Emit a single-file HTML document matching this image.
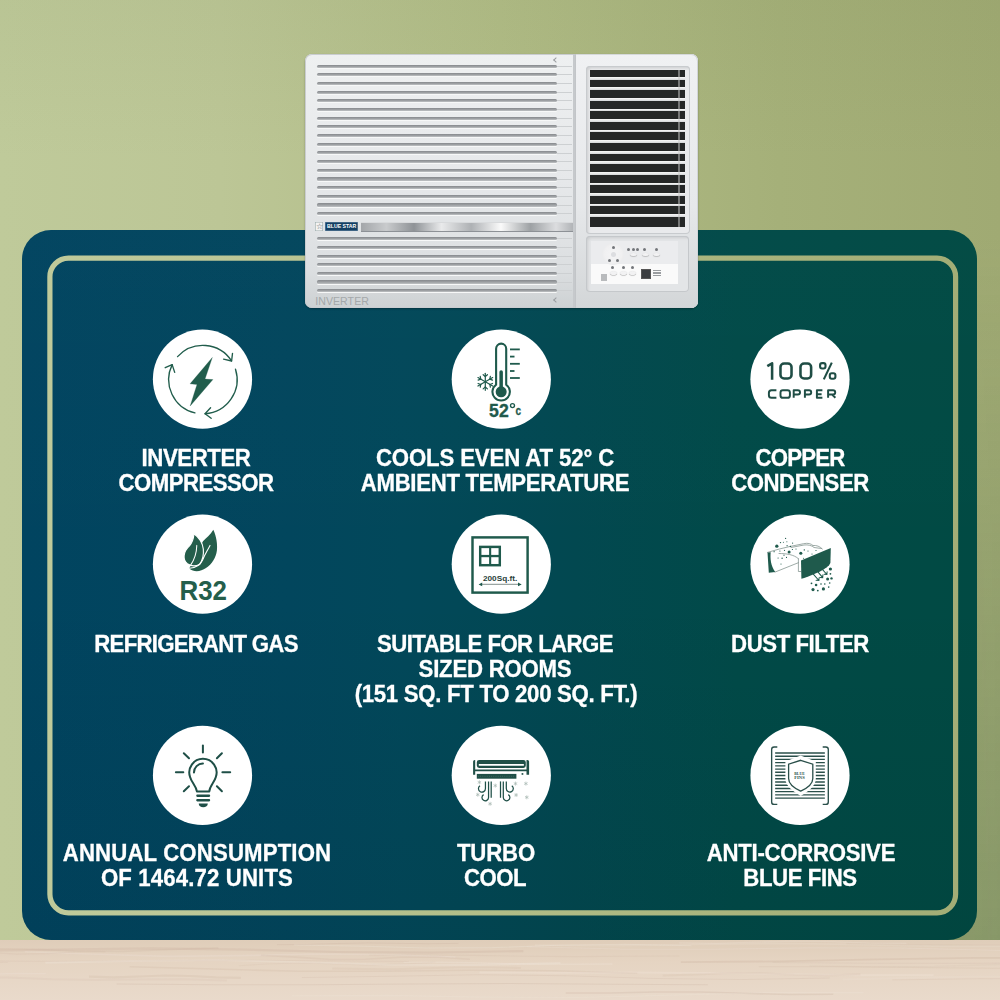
<!DOCTYPE html>
<html><head><meta charset="utf-8"><style>
html,body{margin:0;padding:0;}
body{width:1000px;height:1000px;overflow:hidden;position:relative;font-family:"Liberation Sans",sans-serif;
background:linear-gradient(90deg,#bfca9a 0%,#bcc696 22%,#b1bc86 50%,#a5b079 78%,#a0aa73 100%);}
#wallshade{position:absolute;left:0;top:0;width:1000px;height:940px;background:linear-gradient(180deg,rgba(80,110,80,0) 25%,rgba(80,110,80,0.30) 100%);-webkit-mask-image:linear-gradient(90deg,transparent 45%,#000 100%);}
#floor{position:absolute;left:0;top:940px;width:1000px;height:60px;overflow:hidden;}
#floorsvg{position:absolute;left:0;top:0;}
#walltop{position:absolute;left:0;top:0;width:1000px;height:160px;background:linear-gradient(180deg,rgba(90,110,60,0.06) 0%,rgba(90,110,60,0) 100%);}
#panel{position:absolute;left:22px;top:230px;width:955px;height:710px;border-radius:29px;
background:linear-gradient(90deg,#014460 0%,#02465d 28%,#02485a 40%,#024850 58%,#014a48 75%,#014a43 100%);}
#panelshade{position:absolute;left:22px;top:230px;width:955px;height:710px;border-radius:29px;
background:linear-gradient(180deg,rgba(255,255,255,0.01) 0%,rgba(0,0,0,0) 50%,rgba(0,10,10,0.07) 100%);}
#inner{position:absolute;left:0;top:0;}
#icons{position:absolute;left:0;top:0;}
.ln{position:absolute;width:500px;text-align:center;color:#fff;font-weight:bold;font-size:23px;line-height:25px;height:25px;white-space:nowrap;-webkit-text-stroke:0.3px #fff;transform:scaleX(0.965);}
#ac{position:absolute;left:0;top:0;width:1000px;height:400px;}
.acbody{position:absolute;left:305px;top:54px;width:393px;height:254px;border-radius:7px;
background:linear-gradient(180deg,#eef0f1 0%,#e6e8ea 50%,#dcdfe1 85%,#cdd1d3 100%);box-shadow:inset 0 0 0 1px #c9ccd0,0 1px 2px rgba(0,0,0,0.3);}
#divl{position:absolute;left:572.5px;top:54px;width:2px;height:254px;background:#c6c9cc;}
.gr{position:absolute;left:317px;width:240px;height:3.2px;border-radius:1.6px;
background:linear-gradient(180deg,#86898d 0%,#9c9fa2 50%,#c0c3c5 100%);box-shadow:0 1px 0 #f7f8f8;}
.grs{position:absolute;left:557px;width:15px;height:1px;background:#cdd0d2;}
.mk{position:absolute;left:554px;width:3px;height:3px;border-left:1px solid #9a9da0;border-bottom:1px solid #9a9da0;transform:rotate(45deg);}
#starbox{position:absolute;left:315.4px;top:222.4px;width:8px;height:9px;box-shadow:inset 0 0 0 0.6px #9aa;background:#f3f3f3;color:#555;font-size:8px;line-height:9px;text-align:center;}
#bsbox{position:absolute;left:325.2px;top:222.4px;width:33px;height:9px;background:#143f63;color:#fff;font-size:5.2px;font-weight:bold;line-height:9px;text-align:center;box-shadow:inset 0 0 0 0.6px #6a8aa5;}
#chrome{position:absolute;left:361px;top:221.8px;width:212px;height:9.8px;background:linear-gradient(90deg,#a3a6a9 0%,#c9cbcd 12%,#8f9397 25%,#e9eaeb 38%,#aeb1b4 52%,#fafafa 66%,#9da1a4 80%,#dcdddf 92%,#b1b4b7 100%);box-shadow:inset 0 -1px 0 #8d9196,inset 0 1px 0 #d8dadc;}
#invtxt{position:absolute;left:315.2px;top:295.6px;font-size:10.6px;line-height:10.5px;color:#a4a8aa;letter-spacing:0.05px;}
#rbody{position:absolute;left:574.5px;top:54px;width:123.5px;height:254px;border-radius:0 7px 7px 0;background:linear-gradient(180deg,#f0f1f3 0%,#e6e8ea 60%,#d3d6d8 100%);box-shadow:inset 1px 0 0 #c2c5c8,inset -1px 0 0 #d2d5d8,inset 0 1px 0 #d5d8da,inset 0 -1px 0 #d0d3d6;}
#rframe{position:absolute;left:585.5px;top:65.5px;width:104px;height:168px;border-radius:4px;background:#e9eaec;box-shadow:inset 0 0 0 1px #c8cbce,inset 2px 2px 3px rgba(0,0,0,0.12);}
#grille{position:absolute;left:589.5px;top:70px;width:95px;height:156.5px;background:#252727;overflow:hidden;}
.gb{position:absolute;left:0;width:100%;height:2.8px;background:linear-gradient(180deg,#fafafa,#d3d5d7);}
#vbar{position:absolute;left:88.9px;top:0;width:1.2px;height:100%;background:rgba(200,200,200,0.5);}
#cpanel{position:absolute;left:586px;top:236px;width:103px;height:56px;background:#e3e5e7;border-radius:4px;box-shadow:inset 0 0 0 1px #c5c8cb,inset 2px 2px 3px rgba(0,0,0,0.10);}
#cpin{position:absolute;left:5px;top:5px;width:87px;height:43px;background:#ebecee;overflow:hidden;}
#cplow{position:absolute;left:0;top:23px;width:87px;height:20px;background:#fafafa;}
.dial{position:absolute;left:11px;top:2px;width:22px;height:22px;border-radius:50%;background:radial-gradient(circle at 50% 50%,#f4f4f5 0%,#f0f0f1 55%,#e2e3e5 100%);}
.dialc{position:absolute;left:19.5px;top:10.5px;width:5px;height:5px;border-radius:50%;background:#dcdde0;}
.btn{position:absolute;width:3px;height:3px;border-radius:50%;background:#73767a;}
.obtn{position:absolute;width:7px;height:3.6px;border-radius:50%;background:#f2f2f3;box-shadow:0 0.6px 0.8px rgba(0,0,0,0.35);}
#sq{position:absolute;left:10px;top:33px;width:6px;height:7px;background:#b9bbbd;}
#lcd{position:absolute;left:49.5px;top:27.5px;width:10px;height:10px;background:#3a3d40;box-shadow:inset 0 0 0 1px #555;}
#lcdt{position:absolute;left:62px;top:29px;width:8px;height:7px;background:repeating-linear-gradient(180deg,#9a9da0 0 1px,transparent 1px 2.5px);}
</style></head>
<body>
<div id="wallshade"></div><div id="walltop"></div>
<div id="panel"></div><div id="panelshade"></div>
<svg id="inner" width="1000" height="1000" viewBox="0 0 1000 1000"><defs><linearGradient id="ilg" gradientUnits="userSpaceOnUse" x1="0" y1="0" x2="1000" y2="0"><stop offset="0" stop-color="#c0cb9b"/><stop offset="0.22" stop-color="#bdc797"/><stop offset="0.5" stop-color="#b2bd87"/><stop offset="0.78" stop-color="#a8b27b"/><stop offset="1" stop-color="#a2ac75"/></linearGradient></defs><rect x="49.9" y="258.1" width="905.7" height="654.7" rx="18.6" fill="none" stroke="url(#ilg)" stroke-width="5.2"/></svg>
<div id="ac"><div class="acbody"></div><div id="divl"></div><div class="gr" style="top:64.50px"></div><div class="grs" style="top:65.70px"></div><div class="gr" style="top:73.18px"></div><div class="grs" style="top:74.38px"></div><div class="gr" style="top:81.86px"></div><div class="grs" style="top:83.06px"></div><div class="gr" style="top:90.54px"></div><div class="grs" style="top:91.74px"></div><div class="gr" style="top:99.22px"></div><div class="grs" style="top:100.42px"></div><div class="gr" style="top:107.90px"></div><div class="grs" style="top:109.10px"></div><div class="gr" style="top:116.58px"></div><div class="grs" style="top:117.78px"></div><div class="gr" style="top:125.26px"></div><div class="grs" style="top:126.46px"></div><div class="gr" style="top:133.94px"></div><div class="grs" style="top:135.14px"></div><div class="gr" style="top:142.62px"></div><div class="grs" style="top:143.82px"></div><div class="gr" style="top:151.30px"></div><div class="grs" style="top:152.50px"></div><div class="gr" style="top:159.98px"></div><div class="grs" style="top:161.18px"></div><div class="gr" style="top:168.66px"></div><div class="grs" style="top:169.86px"></div><div class="gr" style="top:177.34px"></div><div class="grs" style="top:178.54px"></div><div class="gr" style="top:186.02px"></div><div class="grs" style="top:187.22px"></div><div class="gr" style="top:194.70px"></div><div class="grs" style="top:195.90px"></div><div class="gr" style="top:203.38px"></div><div class="grs" style="top:204.58px"></div><div class="gr" style="top:212.06px"></div><div class="grs" style="top:213.26px"></div><div class="gr" style="top:237.20px"></div><div class="grs" style="top:238.40px"></div><div class="gr" style="top:245.85px"></div><div class="grs" style="top:247.05px"></div><div class="gr" style="top:254.50px"></div><div class="grs" style="top:255.70px"></div><div class="gr" style="top:263.15px"></div><div class="grs" style="top:264.35px"></div><div class="gr" style="top:271.80px"></div><div class="grs" style="top:273.00px"></div><div class="gr" style="top:280.45px"></div><div class="grs" style="top:281.65px"></div><div class="gr" style="top:289.10px"></div><div class="grs" style="top:290.30px"></div><div class="mk" style="top:58px"></div><div class="mk" style="top:298px"></div><div id="starbox">&#9734;</div><div id="bsbox">BLUE STAR</div><div id="chrome"></div><div id="invtxt">INVERTER</div><div id="rbody"></div><div id="rframe"></div><div id="grille"><div class="gb" style="top:6.80px"></div><div class="gb" style="top:17.37px"></div><div class="gb" style="top:27.94px"></div><div class="gb" style="top:38.51px"></div><div class="gb" style="top:49.08px"></div><div class="gb" style="top:59.65px"></div><div class="gb" style="top:70.22px"></div><div class="gb" style="top:80.79px"></div><div class="gb" style="top:91.36px"></div><div class="gb" style="top:101.93px"></div><div class="gb" style="top:112.50px"></div><div class="gb" style="top:123.07px"></div><div class="gb" style="top:133.64px"></div><div class="gb" style="top:144.21px"></div><div id="vbar"></div></div><div id="cpanel"><div id="cpin"><div id="cplow"></div><div class="dial"></div><div class="dialc"></div><div class="btn" style="left:36.2px;top:6.7px"></div><div class="btn" style="left:40.7px;top:6.7px"></div><div class="btn" style="left:45.2px;top:6.7px"></div><div class="btn" style="left:52.2px;top:6.7px"></div><div class="btn" style="left:63.7px;top:6.7px"></div><div class="btn" style="left:20.7px;top:4.7px"></div><div class="btn" style="left:17.2px;top:17.7px"></div><div class="btn" style="left:24.7px;top:17.7px"></div><div class="btn" style="left:20.2px;top:25.2px"></div><div class="btn" style="left:30.7px;top:25.2px"></div><div class="btn" style="left:39.7px;top:25.2px"></div><div class="obtn" style="left:38.5px;top:11.7px"></div><div class="obtn" style="left:50.5px;top:11.7px"></div><div class="obtn" style="left:61.5px;top:11.7px"></div><div class="obtn" style="left:18.5px;top:30.2px"></div><div class="obtn" style="left:28.5px;top:30.2px"></div><div class="obtn" style="left:37.5px;top:30.2px"></div><div id="sq"></div><div id="lcd"></div><div id="lcdt"></div></div></div></div>
<svg id="icons" width="1000" height="1000" viewBox="0 0 1000 1000"><circle cx="202.5" cy="379.2" r="49.6" fill="#fff"/><circle cx="501.3" cy="379.2" r="49.6" fill="#fff"/><circle cx="800" cy="379.2" r="49.6" fill="#fff"/><circle cx="202.5" cy="564.2" r="49.6" fill="#fff"/><circle cx="501.3" cy="564.2" r="49.6" fill="#fff"/><circle cx="800" cy="564.2" r="49.6" fill="#fff"/><circle cx="202.5" cy="775.4" r="49.6" fill="#fff"/><circle cx="501.3" cy="775.4" r="49.6" fill="#fff"/><circle cx="800" cy="775.4" r="49.6" fill="#fff"/><g fill="none" stroke="#215d4c" stroke-width="1.35" stroke-linecap="round" stroke-linejoin="round"><path d="M177.56 356.63A34.2 34.2 0 0 1 231.58 360.97"/><path d="M232.51 353.43L231.58 360.97L223.59 359.13"/><path d="M235.50 369.26A34.2 34.2 0 0 1 205.05 413.73"/><path d="M211.16 418.24L205.05 413.73L210.58 407.68"/><path d="M194.92 412.86A34.2 34.2 0 0 1 172.16 364.61"/><path d="M165.22 367.70L172.16 364.61L174.70 372.41"/></g><path d="M212.3 357.5L190.1 383.8L197 384.6L190.2 405.9L212.9 379.6L205 379.1Z" fill="#215d4c" stroke="#215d4c" stroke-width="0.3" stroke-linejoin="round"/><path d="M496.1 384.75V348.7A5.05 5.05 0 0 1 506.2 348.7V384.75A8.7 8.7 0 1 1 496.1 384.75Z" fill="none" stroke="#1f5a4c" stroke-width="2.1"/><circle cx="501.15" cy="391.8" r="5.5" fill="#1f5a4c"/><path d="M499.4 388V371.9A1.75 1.75 0 0 1 502.9 371.9V388Z" fill="#1f5a4c"/><g stroke="#1f5a4c" stroke-width="1.8"><line x1="510" y1="349.4" x2="519.8" y2="349.4"/><line x1="510" y1="356.6" x2="514.5" y2="356.6"/><line x1="510" y1="363.8" x2="519.8" y2="363.8"/><line x1="510" y1="371" x2="514.5" y2="371"/><line x1="510" y1="378" x2="519.8" y2="378"/></g><g stroke="#1f5a4c" stroke-width="1.2" stroke-linecap="round" fill="none"><line x1="485.30" y1="390.30" x2="485.30" y2="373.30"/><path d="M483.16 388.87L485.30 387.07"/><path d="M487.44 388.87L485.30 387.07"/><path d="M487.44 374.73L485.30 376.53"/><path d="M483.16 374.73L485.30 376.53"/><line x1="477.94" y1="386.05" x2="492.66" y2="377.55"/><path d="M478.10 383.48L480.74 384.44"/><path d="M480.25 387.19L480.74 384.44"/><path d="M492.50 380.12L489.86 379.17"/><path d="M490.35 376.41L489.86 379.17"/><line x1="477.94" y1="377.55" x2="492.66" y2="386.05"/><path d="M480.25 376.41L480.74 379.17"/><path d="M478.10 380.12L480.74 379.17"/><path d="M490.35 387.19L489.86 384.44"/><path d="M492.50 383.48L489.86 384.44"/></g><text x="489.1" y="416.6" font-family="Liberation Sans" font-weight="bold" font-size="18.4" fill="#1f5a4c" stroke="#1f5a4c" stroke-width="0.35" textLength="19.6" lengthAdjust="spacingAndGlyphs">52</text><circle cx="512.5" cy="405.6" r="2.0" fill="none" stroke="#1f5a4c" stroke-width="1.35"/><text x="515.4" y="415.3" font-family="Liberation Sans" font-weight="bold" font-size="12.6" fill="#1f5a4c" stroke="#1f5a4c" stroke-width="0.3" textLength="5.6" lengthAdjust="spacingAndGlyphs">c</text><g fill="none" stroke="#1f4d45" stroke-width="2.55" stroke-linejoin="round"><path d="M772.1 379.8V363.3L767.3 366.2"/><rect x="780.475" y="363.47499999999997" width="11.05" height="15.05" rx="3.6"/><rect x="800.475" y="363.47499999999997" width="10.649999999999999" height="15.05" rx="3.6"/></g><g fill="none" stroke="#1f4d45" stroke-width="2.1"><line x1="831.8" y1="362.6" x2="823.8" y2="379.4"/><rect x="820.1" y="363.1" width="5.4" height="5.4" rx="2"/><rect x="829.8" y="373.2" width="5.6" height="5.6" rx="2"/></g><g fill="none" stroke="#1f4d45" stroke-width="1.95" stroke-linejoin="round"><path d="M776.4 390.2H771.5Q768.9 390.2 768.9 392.8V395.2Q768.9 397.8 771.5 397.8H776.4"/><rect x="780.5" y="390.2" width="9.4" height="7.60" rx="2.4"/><path d="M793.7 397.8V390.2H797.8Q800.0 390.2 800.0 392.2V392.5Q800.0 394.4 797.8 394.4H793.7"/><path d="M804.9 397.8V390.2H809.0Q811.2 390.2 811.2 392.2V392.5Q811.2 394.4 809.0 394.4H804.9"/><path d="M822.4 390.2H816.9V397.8H822.4M816.9 394.2H821.6"/><path d="M828.1 397.8V390.2H833Q835.2 390.2 835.2 392.2V392.5Q835.2 394.4 833 394.4H828.1M831.8 394.4L835.4 397.8"/></g><path d="M213.3 529.7C216.5 536 217.6 545 216.9 550.5C215.9 558 212 564 206 568C201 571.6 194 572.6 189.3 568.6C192 562 198 550 203 541.2C206 538 210.5 535 213.3 529.7Z" fill="#245e4b"/><path d="M194 533.8C199 537.5 202.6 543 203.3 549C203.9 555 202.1 561 199.6 564.4C196 566.2 191 566.2 187.35 563.8C184.5 561.5 183.9 558 184.1 555.8C184.5 551 187 548 189.5 545.8C192 543 193.6 538 194 533.8Z" fill="#245e4b" stroke="#fff" stroke-width="1.15"/><path d="M196.8 545.4C196.6 553 194.2 560 190.3 565.6" fill="none" stroke="#fff" stroke-width="1.05" stroke-linecap="round"/><path d="M210 545.4C207.2 551 204.6 555 202.6 560C200.6 564.5 197 567.6 189.6 568.3" fill="none" stroke="#fff" stroke-width="1.1" stroke-linecap="round"/><text x="179.5" y="599.8" font-family="Liberation Sans" font-weight="bold" font-size="28.3" fill="#245e4b" textLength="47.5" lengthAdjust="spacingAndGlyphs">R32</text><rect x="472.5" y="537.4" width="55.1" height="55.2" fill="none" stroke="#1f5a4c" stroke-width="2.45"/><rect x="480.2" y="546.9" width="19.6" height="18.3" fill="none" stroke="#1f5a4c" stroke-width="2.45"/><line x1="490.15" y1="546.9" x2="490.15" y2="565.2" stroke="#1f5a4c" stroke-width="2.1"/><line x1="480.2" y1="556.05" x2="499.8" y2="556.05" stroke="#1f5a4c" stroke-width="2.3"/><text x="483" y="580.5" font-family="Liberation Sans" font-weight="bold" font-size="7.4" fill="#2a3f3a" textLength="34.2" lengthAdjust="spacingAndGlyphs">200Sq.ft.</text><line x1="481" y1="584.4" x2="519" y2="584.4" stroke="#9aa5a2" stroke-width="1.2"/><path d="M478.6 584.4L482.2 582.5V586.3Z M521.7 584.4L518 582.5V586.3Z" fill="#1f5a4c"/><g fill="none" stroke="#7d8f8a" stroke-width="0.75" stroke-linejoin="round" stroke-linecap="round"><path d="M767.5 552.4L779.4 549L790.4 546.4L803.6 543.7C808 542.8 811 543.5 813 545.5"/><path d="M791 547.5L804 545C808 544.5 812 545.5 814 547.5L821.5 548.5"/><path d="M813 545.5C816.5 545 820 546.5 822.4 549"/><path d="M775 572.1L798.4 562.7"/><path d="M779 553.5C786 553.5 794 554.5 798.4 558.7"/><path d="M798.4 558.7V571.5H801"/></g><path d="M767.5 552.4L770.7 552.3C770.1 558 770.6 566 775.2 571.9L768.8 572.8Z" fill="#1f5a4c"/><path d="M801 560.5L830.8 548L830.4 563C828 569 815 574 804.2 578L801.4 578.7Z" fill="#1f5a4c"/><circle cx="776.8" cy="546.15" r="1.65" fill="#1f5a4c"/><circle cx="789.1" cy="552.1" r="1.5" fill="#1f5a4c"/><circle cx="800.8" cy="553.2" r="1.55" fill="#1f5a4c"/><circle cx="780.5" cy="542.6" r="0.7" fill="#1f5a4c"/><circle cx="792.6" cy="543.1" r="0.6" fill="#1f5a4c"/><circle cx="785.6" cy="538.4" r="0.6" fill="#1f5a4c"/><circle cx="790.4" cy="546.4" r="0.7" fill="#1f5a4c"/><circle cx="784.5" cy="550.3" r="0.6" fill="#1f5a4c"/><circle cx="792.4" cy="549.5" r="0.6" fill="#1f5a4c"/><circle cx="774.1" cy="551.7" r="0.6" fill="#1f5a4c"/><circle cx="779.9" cy="551" r="0.6" fill="#1f5a4c"/><circle cx="784" cy="555.2" r="0.6" fill="#1f5a4c"/><circle cx="778.1" cy="558" r="0.6" fill="#1f5a4c"/><circle cx="782.1" cy="558.3" r="0.7" fill="#1f5a4c"/><circle cx="786.5" cy="557.4" r="0.55" fill="#1f5a4c"/><circle cx="781" cy="564" r="0.6" fill="#1f5a4c"/><circle cx="804.3" cy="549.9" r="0.7" fill="#1f5a4c"/><circle cx="787.1" cy="545.7" r="0.6" fill="#1f5a4c"/><circle cx="783.4" cy="542.2" r="0.5" fill="#1f5a4c"/><circle cx="786.9" cy="541.7" r="0.5" fill="#1f5a4c"/><circle cx="803.6" cy="558.3" r="0.55" fill="#1f5a4c"/><circle cx="808" cy="551" r="0.6" fill="#1f5a4c"/><circle cx="812" cy="554" r="0.55" fill="#1f5a4c"/><circle cx="816" cy="550.5" r="0.6" fill="#1f5a4c"/><circle cx="796" cy="549" r="0.55" fill="#1f5a4c"/><g fill="none" stroke="#1f5a4c" stroke-width="1.05" stroke-linecap="round"><path d="M813.3 574.2L818.9 580.5M816.1 580.2L818.9 580.5L819.1 577.7"/><path d="M817.5 571.4L822.7 577.7M819.9000000000001 577.4000000000001L822.7 577.7L822.9000000000001 574.9000000000001"/><path d="M821.7 568.6L826.9 574.5M824.1 574.2L826.9 574.5L827.1 571.7"/></g><circle cx="830.4" cy="569" r="1.6" fill="#1f5a4c"/><circle cx="830.4" cy="573.8" r="0.9" fill="#1f5a4c"/><circle cx="827.6" cy="579.1" r="1.5" fill="#1f5a4c"/><circle cx="831.5" cy="578.4" r="1.2" fill="#1f5a4c"/><circle cx="829.7" cy="583" r="0.8" fill="#1f5a4c"/><circle cx="811.5" cy="583.3" r="0.9" fill="#1f5a4c"/><circle cx="816.1" cy="585" r="1.3" fill="#1f5a4c"/><circle cx="821" cy="584" r="0.8" fill="#1f5a4c"/><circle cx="824.8" cy="584" r="0.8" fill="#1f5a4c"/><circle cx="828.7" cy="587.1" r="0.8" fill="#1f5a4c"/><circle cx="813" cy="589.6" r="1.6" fill="#1f5a4c"/><circle cx="817.8" cy="590.6" r="0.9" fill="#1f5a4c"/><circle cx="823.4" cy="588.9" r="1.6" fill="#1f5a4c"/><g fill="none" stroke="#1f4f47" stroke-width="2" stroke-linecap="round" stroke-linejoin="round"><path d="M196.9 791.4C196.2 786 191.5 782.5 190.06 777A13.65 13.65 0 1 1 215.84 777C214.4 782.5 209.7 786 209.3 791.4Z"/><path d="M193.95 772.5A9 9 0 0 1 202.95 763.5"/><line x1="202.9" y1="745.6" x2="202.9" y2="752.6"/><line x1="175.9" y1="772.3" x2="183.3" y2="772.3"/><line x1="222.4" y1="772.3" x2="230.2" y2="772.3"/><line x1="183.8" y1="753.2" x2="189" y2="758.3"/><line x1="221.9" y1="753.2" x2="216.9" y2="758.3"/><line x1="183.8" y1="791.2" x2="189" y2="786.3"/><line x1="221.9" y1="791.2" x2="216.9" y2="786.3"/></g><rect x="196.2" y="794.6" width="14" height="2.3" rx="1.1" fill="#1f4f47"/><rect x="196.2" y="799.1" width="14" height="2.3" rx="1.1" fill="#1f4f47"/><path d="M198.7 803.5H207.8C207.8 806 205.8 807.3 203.25 807.3C200.7 807.3 198.7 806 198.7 803.5Z" fill="#1f4f47"/><path d="M473.1 761.5Q473.1 759.9 474.7 759.9H475.2V769.6H526.5V759.9H527.5Q529.1 759.9 529.1 761.5V774.8H526.5V771.3H475.2V774.8H473.1Z" fill="#1f4f47"/><path d="M479.2 759.9H523.4A2.4 2.4 0 0 1 525.8 762.3V765.6A2.4 2.4 0 0 1 523.4 768H479.2A2.4 2.4 0 0 1 476.8 765.6V762.3A2.4 2.4 0 0 1 479.2 759.9Z" fill="#1f4f47"/><rect x="478.6" y="764.1" width="45.5" height="1.7" rx="0.8" fill="#fff"/><rect x="521.6" y="773.1" width="1.7" height="1.7" fill="#1f4f47"/><rect x="476.8" y="773.9" width="39.6" height="4.8" fill="#1f4f47"/><line x1="478" y1="776.3" x2="515" y2="776.3" stroke="#6f8f85" stroke-width="0.4" stroke-dasharray="0.8 1.4"/><g fill="none" stroke="#1f4f47" stroke-width="1.25" stroke-linecap="butt"><path d="M485.45 781.4V788.6A3.5 3.5 0 1 1 480 785.7"/><path d="M488.55 781.4V797.5A3.3 3.3 0 1 1 483.6 794.6"/><path d="M491.2 781.4V797.75"/><path d="M500.5 781.4V797.75"/><path d="M503.3 781.4V797.5A3.3 3.3 0 1 0 508.3 794.6"/><path d="M506.3 781.4V788.6A3.5 3.5 0 1 0 511.8 785.7"/></g><g stroke="#a9b9b3" stroke-width="0.7"><line x1="479.40" y1="784.30" x2="479.40" y2="780.30"/><line x1="477.67" y1="783.30" x2="481.13" y2="781.30"/><line x1="477.67" y1="781.30" x2="481.13" y2="783.30"/><line x1="495.30" y1="787.60" x2="495.30" y2="783.60"/><line x1="493.57" y1="786.60" x2="497.03" y2="784.60"/><line x1="493.57" y1="784.60" x2="497.03" y2="786.60"/><line x1="477.80" y1="796.70" x2="477.80" y2="792.70"/><line x1="476.07" y1="795.70" x2="479.53" y2="793.70"/><line x1="476.07" y1="793.70" x2="479.53" y2="795.70"/><line x1="490.10" y1="805.80" x2="490.10" y2="801.80"/><line x1="488.37" y1="804.80" x2="491.83" y2="802.80"/><line x1="488.37" y1="802.80" x2="491.83" y2="804.80"/><line x1="515.50" y1="785.60" x2="515.50" y2="781.60"/><line x1="513.77" y1="784.60" x2="517.23" y2="782.60"/><line x1="513.77" y1="782.60" x2="517.23" y2="784.60"/><line x1="525.90" y1="785.60" x2="525.90" y2="781.60"/><line x1="524.17" y1="784.60" x2="527.63" y2="782.60"/><line x1="524.17" y1="782.60" x2="527.63" y2="784.60"/><line x1="516.10" y1="797.00" x2="516.10" y2="793.00"/><line x1="514.37" y1="796.00" x2="517.83" y2="794.00"/><line x1="514.37" y1="794.00" x2="517.83" y2="796.00"/><line x1="526.80" y1="799.30" x2="526.80" y2="795.30"/><line x1="525.07" y1="798.30" x2="528.53" y2="796.30"/><line x1="525.07" y1="796.30" x2="528.53" y2="798.30"/></g><g fill="none" stroke="#2a4f4a" stroke-width="1.35"><path d="M777.3 747H774.1Q771.65 747 771.65 749.5V801.9Q771.65 804.4 774.1 804.4H777.3"/><path d="M822.7 747H825.8Q828.3 747 828.3 749.5V801.9Q828.3 804.4 825.8 804.4H822.7"/></g><defs><mask id="fm" maskUnits="userSpaceOnUse" x="700" y="700" width="200" height="150"><rect x="700" y="700" width="200" height="150" fill="#fff"/><path d="M800.7 755.5L815.8 761.5V779C815.8 786 808 791.5 800.7 796C793.5 791.5 785.4 786 785.4 779V761.5Z" fill="#000"/></mask></defs><g stroke="#2a4f4a" stroke-width="1.4" mask="url(#fm)"><line x1="775.15" y1="752.95" x2="824.85" y2="752.95"/><line x1="775.15" y1="756.18" x2="824.85" y2="756.18"/><line x1="775.15" y1="759.40" x2="824.85" y2="759.40"/><line x1="775.15" y1="762.62" x2="824.85" y2="762.62"/><line x1="775.15" y1="765.85" x2="824.85" y2="765.85"/><line x1="775.15" y1="769.08" x2="824.85" y2="769.08"/><line x1="775.15" y1="772.30" x2="824.85" y2="772.30"/><line x1="775.15" y1="775.53" x2="824.85" y2="775.53"/><line x1="775.15" y1="778.75" x2="824.85" y2="778.75"/><line x1="775.15" y1="781.98" x2="824.85" y2="781.98"/><line x1="775.15" y1="785.20" x2="824.85" y2="785.20"/><line x1="775.15" y1="788.43" x2="824.85" y2="788.43"/><line x1="775.15" y1="791.65" x2="824.85" y2="791.65"/><line x1="775.15" y1="794.88" x2="824.85" y2="794.88"/><line x1="775.15" y1="798.10" x2="824.85" y2="798.10"/></g><path d="M800.7 760.3L812.8 764.2V778.5C812.8 784 806.5 788.5 800.7 791.1C795 788.5 788.6 784 788.6 778.5V764.2Z" fill="none" stroke="#2a4f4a" stroke-width="1.3"/><text x="799.5" y="775" text-anchor="middle" font-family="Liberation Serif" font-weight="bold" font-size="4.4" fill="#2a4f4a" textLength="10.5" lengthAdjust="spacingAndGlyphs">BLUE</text><text x="799.5" y="779.4" text-anchor="middle" font-family="Liberation Serif" font-weight="bold" font-size="4.4" fill="#2a4f4a" textLength="10.5" lengthAdjust="spacingAndGlyphs">FINS</text></svg>
<div class="ln" style="left:-54.21px;top:445.80px;letter-spacing:-0.429px">INVERTER</div><div class="ln" style="left:-54.08px;top:470.80px;letter-spacing:-0.578px">COMPRESSOR</div><div class="ln" style="left:244.73px;top:445.80px;letter-spacing:-0.139px">COOLS EVEN AT 52° C</div><div class="ln" style="left:244.94px;top:470.80px;letter-spacing:-0.333px">AMBIENT TEMPERATURE</div><div class="ln" style="left:550.21px;top:445.80px;letter-spacing:-0.800px">COPPER</div><div class="ln" style="left:550.07px;top:470.80px;letter-spacing:-0.475px">CONDENSER</div><div class="ln" style="left:-54.17px;top:631.50px;letter-spacing:-0.771px">REFRIGERANT GAS</div><div class="ln" style="left:244.72px;top:631.50px;letter-spacing:-0.588px">SUITABLE FOR LARGE</div><div class="ln" style="left:244.88px;top:656.50px;letter-spacing:-0.240px">SIZED ROOMS</div><div class="ln" style="left:245.65px;top:681.50px;letter-spacing:-0.308px">(151 SQ. FT TO 200 SQ. FT.)</div><div class="ln" style="left:549.88px;top:631.50px;letter-spacing:-0.460px">DUST FILTER</div><div class="ln" style="left:-52.93px;top:840.50px;letter-spacing:0.147px">ANNUAL CONSUMPTION</div><div class="ln" style="left:-53.34px;top:865.50px;letter-spacing:0.133px">OF 1464.72 UNITS</div><div class="ln" style="left:246.43px;top:840.50px;letter-spacing:-0.150px">TURBO</div><div class="ln" style="left:244.63px;top:865.50px;letter-spacing:-0.567px">COOL</div><div class="ln" style="left:550.76px;top:840.50px;letter-spacing:-0.300px">ANTI-CORROSIVE</div><div class="ln" style="left:550.19px;top:865.50px;letter-spacing:-0.438px">BLUE FINS</div>
<div id="floor"><svg id="floorsvg" width="1000" height="60" viewBox="0 0 1000 60"><defs><linearGradient id="flg" x1="0" y1="0" x2="0" y2="1"><stop offset="0" stop-color="#dfcdb9"/><stop offset="0.35" stop-color="#e5d4c2"/><stop offset="1" stop-color="#e9dacb"/></linearGradient></defs><rect width="1000" height="60" fill="url(#flg)"/><path d="M-34.1 20.78L39.8 21.38L113.6 21.12L187.4 20.40L261.2 20.30L335.0 20.98L408.9 21.47" fill="none" stroke="#c6ad9c" stroke-opacity="0.17" stroke-width="0.88" stroke-linejoin="round"/><path d="M277.0 4.71L307.2 4.45L337.5 3.49L367.7 2.95L398.0 3.32L428.2 3.77L458.4 3.34" fill="none" stroke="#c6ad9c" stroke-opacity="0.25" stroke-width="0.97" stroke-linejoin="round"/><path d="M842.5 39.39L910.8 37.87L979.0 36.61L1047.3 36.95L1115.6 37.88L1183.9 37.54L1252.2 35.92" fill="none" stroke="#f5ebe2" stroke-opacity="0.11" stroke-width="2.00" stroke-linejoin="round"/><path d="M-70.4 10.61L-22.3 8.64L25.8 8.98L74.0 10.92L122.1 11.40L170.3 9.50L218.4 7.79" fill="none" stroke="#c6ad9c" stroke-opacity="0.20" stroke-width="1.69" stroke-linejoin="round"/><path d="M-130.9 33.16L-101.5 33.16L-72.0 34.14L-42.5 34.76L-13.1 34.19L16.4 33.36L45.9 33.57" fill="none" stroke="#f5ebe2" stroke-opacity="0.18" stroke-width="1.24" stroke-linejoin="round"/><path d="M129.7 26.80L214.3 29.07L298.9 31.31L383.5 31.34L468.1 30.25L552.6 30.74L637.2 33.21" fill="none" stroke="#c6ad9c" stroke-opacity="0.20" stroke-width="1.54" stroke-linejoin="round"/><path d="M116.7 44.12L215.2 44.86L313.8 44.75L412.3 43.92L510.8 43.54L609.3 44.13L707.8 44.79" fill="none" stroke="#c6ad9c" stroke-opacity="0.24" stroke-width="1.01" stroke-linejoin="round"/><path d="M535.0 5.17L617.4 5.69L699.7 4.41L782.1 3.48L864.4 4.53L946.8 6.30L1029.1 6.46" fill="none" stroke="#f5ebe2" stroke-opacity="0.16" stroke-width="1.77" stroke-linejoin="round"/><path d="M301.8 37.53L389.8 36.30L477.8 34.72L565.8 35.73L653.8 38.47L741.8 39.55L829.8 38.01" fill="none" stroke="#c6ad9c" stroke-opacity="0.22" stroke-width="0.88" stroke-linejoin="round"/><path d="M892.4 39.92L979.0 38.74L1065.7 38.61L1152.3 39.60L1239.0 40.14L1325.6 39.33L1412.3 38.23" fill="none" stroke="#c6ad9c" stroke-opacity="0.22" stroke-width="0.83" stroke-linejoin="round"/><path d="M-71.2 10.85L-41.8 10.43L-12.4 12.33L17.1 14.14L46.5 13.60L75.9 11.88L105.3 11.89" fill="none" stroke="#c6ad9c" stroke-opacity="0.14" stroke-width="1.35" stroke-linejoin="round"/><path d="M294.1 4.85L360.3 6.06L426.5 7.97L492.7 7.59L558.9 5.27L625.1 4.22L691.4 5.78" fill="none" stroke="#f5ebe2" stroke-opacity="0.26" stroke-width="1.19" stroke-linejoin="round"/><path d="M772.6 22.42L869.4 23.26L966.3 23.39L1063.1 22.57L1159.9 21.94L1256.8 22.39L1353.6 23.19" fill="none" stroke="#c6ad9c" stroke-opacity="0.14" stroke-width="1.13" stroke-linejoin="round"/><path d="M89.0 36.64L114.3 37.40L139.6 36.52L164.9 35.47L190.2 35.95L215.6 37.43L240.9 37.91" fill="none" stroke="#c6ad9c" stroke-opacity="0.20" stroke-width="2.13" stroke-linejoin="round"/><path d="M479.4 32.47L555.1 32.67L630.8 32.53L706.5 33.05L782.2 34.26L857.9 35.18L933.6 35.26" fill="none" stroke="#f5ebe2" stroke-opacity="0.24" stroke-width="2.02" stroke-linejoin="round"/><path d="M238.9 25.70L271.6 23.68L304.4 22.85L337.2 24.03L369.9 25.11L402.7 24.11L435.5 22.11" fill="none" stroke="#c6ad9c" stroke-opacity="0.11" stroke-width="1.09" stroke-linejoin="round"/><path d="M-142.2 21.51L-117.1 21.22L-92.1 21.99L-67.1 23.03L-42.1 23.14L-17.1 22.49L7.9 22.37" fill="none" stroke="#c6ad9c" stroke-opacity="0.17" stroke-width="0.84" stroke-linejoin="round"/><path d="M-36.6 36.63L7.3 37.60L51.2 39.35L95.2 40.08L139.1 39.48L183.0 39.20L226.9 40.40" fill="none" stroke="#c6ad9c" stroke-opacity="0.12" stroke-width="1.99" stroke-linejoin="round"/><path d="M332.2 28.54L363.7 29.06L395.1 29.16L426.5 28.32L458.0 27.39L489.4 27.36L520.9 27.90" fill="none" stroke="#c6ad9c" stroke-opacity="0.15" stroke-width="1.96" stroke-linejoin="round"/><path d="M846.1 3.45L910.7 4.80L975.3 5.10L1039.9 5.00L1104.6 5.73L1169.2 7.31L1233.8 8.51" fill="none" stroke="#c6ad9c" stroke-opacity="0.10" stroke-width="1.54" stroke-linejoin="round"/><path d="M565.8 53.03L610.4 53.04L655.0 52.07L699.6 51.98L744.2 53.34L788.7 54.59L833.3 54.34" fill="none" stroke="#c6ad9c" stroke-opacity="0.24" stroke-width="1.55" stroke-linejoin="round"/><path d="M45.3 22.77L131.2 21.01L217.1 20.13L302.9 22.15L388.8 24.83L474.7 24.97L560.5 23.09" fill="none" stroke="#f5ebe2" stroke-opacity="0.25" stroke-width="1.95" stroke-linejoin="round"/><path d="M369.4 15.15L421.1 14.86L472.7 15.35L524.4 16.24L576.1 16.58L627.7 16.22L679.4 16.04" fill="none" stroke="#c6ad9c" stroke-opacity="0.15" stroke-width="1.16" stroke-linejoin="round"/><path d="M292.0 55.80L387.2 55.39L482.5 57.12L577.8 57.55L673.1 55.13L768.3 52.49L863.6 52.59" fill="none" stroke="#f5ebe2" stroke-opacity="0.17" stroke-width="1.11" stroke-linejoin="round"/><path d="M24.8 11.73L96.6 14.23L168.4 16.28L240.2 15.63L312.0 14.00L383.8 14.52L455.6 17.20" fill="none" stroke="#f5ebe2" stroke-opacity="0.19" stroke-width="1.71" stroke-linejoin="round"/><path d="M526.6 6.70L619.9 9.10L713.1 9.26L806.3 7.88L899.6 7.94L992.8 10.29L1086.0 12.44" fill="none" stroke="#f5ebe2" stroke-opacity="0.19" stroke-width="1.05" stroke-linejoin="round"/><path d="M680.9 22.12L778.8 21.42L876.7 19.39L974.5 17.87L1072.4 17.95L1170.3 18.38L1268.2 17.39" fill="none" stroke="#c6ad9c" stroke-opacity="0.27" stroke-width="1.81" stroke-linejoin="round"/><path d="M-33.7 11.00L59.1 9.67L152.0 8.41L244.9 9.58L337.7 11.98L430.6 12.61L523.4 11.06" fill="none" stroke="#c6ad9c" stroke-opacity="0.25" stroke-width="2.17" stroke-linejoin="round"/><path d="M403.5 22.46L438.3 22.24L473.2 22.67L508.0 23.65L542.8 24.28L577.6 24.17L612.5 24.00" fill="none" stroke="#f5ebe2" stroke-opacity="0.22" stroke-width="1.54" stroke-linejoin="round"/><path d="M758.9 26.62L845.9 26.61L932.8 27.67L1019.8 28.52L1106.8 28.17L1193.7 27.40L1280.7 27.60" fill="none" stroke="#c6ad9c" stroke-opacity="0.15" stroke-width="1.14" stroke-linejoin="round"/><path d="M260.9 15.20L295.7 17.17L330.6 19.45L365.4 19.20L400.2 17.28L435.1 17.00L469.9 19.26" fill="none" stroke="#c6ad9c" stroke-opacity="0.18" stroke-width="1.62" stroke-linejoin="round"/><path d="M809.5 25.87L872.1 26.92L934.7 26.51L997.4 24.53L1060.0 23.20L1122.6 23.76L1185.2 24.70" fill="none" stroke="#c6ad9c" stroke-opacity="0.10" stroke-width="1.42" stroke-linejoin="round"/><path d="M679.1 2.90L717.0 3.40L754.9 2.21L792.9 1.10L830.8 1.72L868.7 3.18L906.6 3.37" fill="none" stroke="#f5ebe2" stroke-opacity="0.20" stroke-width="1.26" stroke-linejoin="round"/><path d="M662.7 35.56L695.7 34.56L728.6 33.07L761.6 33.27L794.5 34.88L827.5 35.55L860.4 34.31" fill="none" stroke="#c6ad9c" stroke-opacity="0.15" stroke-width="1.88" stroke-linejoin="round"/></svg></div>
</body></html>
